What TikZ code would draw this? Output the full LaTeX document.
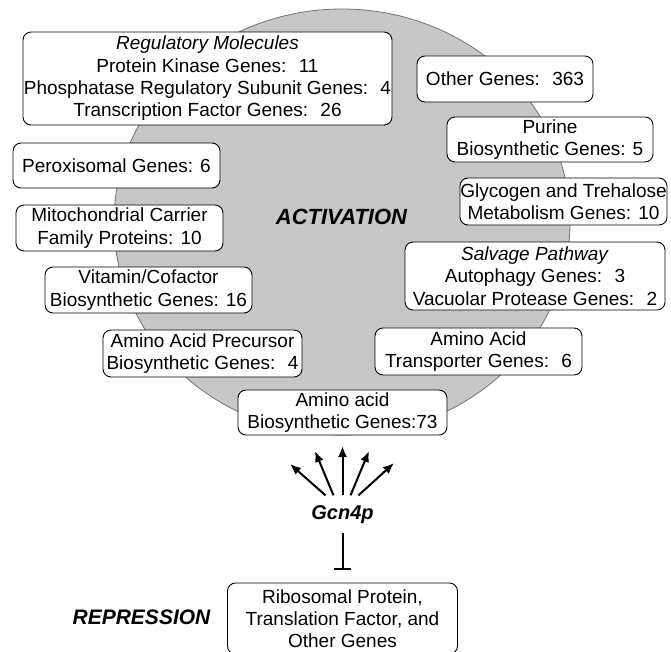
\documentclass[tikz,border=0pt]{standalone}
\usepackage{fontspec}
\setmainfont{Liberation Sans}
\usepackage{tikz}
\usetikzlibrary{arrows.meta}

\newcommand\genefont{\fontsize{19}{22.3}\selectfont}
\newcommand\labfont[1]{\fontsize{#1}{#1}\selectfont\bfseries\itshape}

\begin{document}
\begin{tikzpicture}[
  x=1pt, y=-1pt,
  box/.style={draw, rounded corners=8pt, fill=white, line width=0.9pt, align=center, font=\genefont, inner sep=0pt},
  big/.style={font=\labfont{#1}, inner sep=0pt},
  fan/.style={-{Latex[length=11pt,width=9pt]}, line width=2pt},
  block/.style={-{Bar[width=17pt]}, line width=2pt, shorten >=13pt}
]
\useasboundingbox (0,0) rectangle (671,651);
% shaded activation disc
\draw[fill=black!22, draw=black!55, line width=0.8pt] (342,222) ellipse [x radius=228pt, y radius=213pt];
\node[big=22] (act) at (341.5,217) {ACTIVATION};

% target gene classes
\node[box, minimum width=369pt, minimum height=93pt] (reg) at (207.5,78.5) {\textit{Regulatory Molecules}\\ Protein Kinase Genes:~ 11\\ Phosphatase Regulatory Subunit Genes:~ 4\\ Transcription Factor Genes:~ 26};
\node[box, minimum width=176pt, minimum height=46pt] (other) at (505,79) {Other Genes:~ 363};
\node[box, minimum width=206pt, minimum height=45pt] (purine) at (550,139.5) {Purine\\ Biosynthetic Genes: 5};
\node[box, minimum width=207pt, minimum height=45pt] (perox) at (116.5,165.5) {Peroxisomal Genes: 6};
\node[box, minimum width=207pt, minimum height=47pt] (glyco) at (563.5,201.5) {Glycogen and Trehalose\\ Metabolism Genes: 10};
\node[box, minimum width=207pt, minimum height=46pt] (mito) at (119.5,228) {Mitochondrial Carrier\\ Family Proteins: 10};
\node[box, minimum width=260pt, minimum height=68pt] (salv) at (535,276) {\textit{Salvage Pathway}\\ Autophagy Genes:~ 3\\ Vacuolar Protease Genes:~ 2};
\node[box, minimum width=207pt, minimum height=46pt] (vitam) at (148.5,290) {Vitamin/Cofactor\\ Biosynthetic Genes: 16};
\node[box, minimum width=199pt, minimum height=47pt] (precur) at (202.5,353.5) {Amino Acid Precursor\\ Biosynthetic Genes:~ 4};
\node[box, minimum width=207pt, minimum height=47pt] (transp) at (478.5,351.5) {Amino Acid\\ Transporter Genes:~ 6};
\node[box, minimum width=209pt, minimum height=45pt] (amino) at (342.5,412.5) {Amino acid\\ Biosynthetic Genes:73};

% regulator
\node[big=20, inner sep=9.5pt, anchor=base] (gcn) at (342.5,519) {Gcn4p};
\coordinate (t1) at (290,464);
\coordinate (t2) at (315,451);
\coordinate (t3) at (342.5,446);
\coordinate (t4) at (369,451);
\coordinate (t5) at (394,463);
\draw[fan] ([xshift=-17pt]gcn.north) -- (t1);
\draw[fan] ([xshift=-9pt]gcn.north) -- (t2);
\draw[fan] (gcn.north) -- (t3);
\draw[fan] ([xshift=8pt]gcn.north) -- (t4);
\draw[fan] ([xshift=16pt]gcn.north) -- (t5);

% repressed side
\node[box, minimum width=230pt, minimum height=71pt] (ribo) at (342.5,618.5) {Ribosomal Protein,\\ Translation Factor, and\\ Other Genes};
\node[big=21] (rep) at (141.5,617) {REPRESSION};
\draw[block] (gcn) -- (ribo);
\end{tikzpicture}
\end{document}
